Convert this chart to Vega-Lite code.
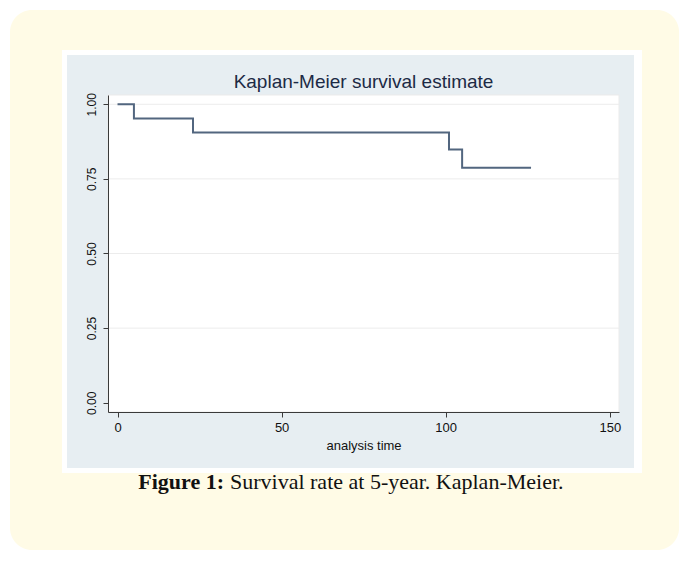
{
  "$schema": "https://vega.github.io/schema/vega-lite/v6.json",
  "width": 511,
  "height": 317,
  "autosize": {"type": "none"},
  "padding": {"left": 108, "top": 95, "right": 61, "bottom": 151},
  "background": "white",
  "config": {
    "view": {"stroke": null},
    "axis": {"grid": false, "domainColor": "#3a3a3a", "tickColor": "#3a3a3a", "labelColor": "#111111", "labelFont": "Liberation Sans", "titleFont": "Liberation Sans", "titleFontWeight": "normal", "titleColor": "#111111"}
  },
  "datasets": {
    "km": [
      {"time": 0, "survival": 1.0},
      {"time": 5, "survival": 0.952},
      {"time": 23, "survival": 0.905},
      {"time": 101, "survival": 0.848},
      {"time": 105, "survival": 0.787},
      {"time": 126, "survival": 0.787}
    ],
    "gridlines": [{"level": 0.25}, {"level": 0.5}, {"level": 0.75}, {"level": 1.0}]
  },
  "layer": [
    {
      "data": {"values": [{}]},
      "mark": {"type": "rect", "fill": "#fffbe6", "cornerRadius": 22},
      "encoding": {
        "x": {"datum": -32.76, "type": "quantitative", "scale": {"domain": [-2.9, 152.8], "nice": false, "zero": false}, "axis": {"title": "analysis time", "values": [0, 50, 100, 150], "zindex": 2, "labelFontSize": 13, "titleFontSize": 13, "labelPadding": 4, "titlePadding": 5, "labelFlush": false, "tickSize": 5}},
        "x2": {"datum": 171.1},
        "y": {"datum": 1.316, "type": "quantitative", "scale": {"domain": [-0.031, 1.031], "nice": false, "zero": false}, "axis": {"title": null, "values": [0, 0.25, 0.5, 0.75, 1], "format": ".2f", "zindex": 2, "labelFontSize": 12, "labelAngle": -90, "labelAlign": "center", "labelBaseline": "bottom", "labelPadding": 5, "tickSize": 5, "labelFlush": false}},
        "y2": {"datum": -0.493}
      }
    },
    {
      "data": {"values": [{}]},
      "mark": {"type": "rect", "fill": "#ffffff"},
      "encoding": {
        "x": {"datum": -16.92, "type": "quantitative", "axis": {"title": "analysis time", "values": [0, 50, 100, 150], "zindex": 2, "labelFontSize": 13, "titleFontSize": 13, "labelPadding": 4, "titlePadding": 5, "labelFlush": false, "tickSize": 5}},
        "x2": {"datum": 159.81},
        "y": {"datum": 1.182, "type": "quantitative", "axis": {"title": null, "values": [0, 0.25, 0.5, 0.75, 1], "format": ".2f", "zindex": 2, "labelFontSize": 12, "labelAngle": -90, "labelAlign": "center", "labelBaseline": "bottom", "labelPadding": 5, "tickSize": 5, "labelFlush": false}},
        "y2": {"datum": -0.235}
      }
    },
    {
      "data": {"values": [{}]},
      "mark": {"type": "rect", "fill": "#e7eef2"},
      "encoding": {
        "x": {"datum": -15.39, "type": "quantitative", "axis": {"title": "analysis time", "values": [0, 50, 100, 150], "zindex": 2, "labelFontSize": 13, "titleFontSize": 13, "labelPadding": 4, "titlePadding": 5, "labelFlush": false, "tickSize": 5}},
        "x2": {"datum": 157.37},
        "y": {"datum": 1.165, "type": "quantitative", "axis": {"title": null, "values": [0, 0.25, 0.5, 0.75, 1], "format": ".2f", "zindex": 2, "labelFontSize": 12, "labelAngle": -90, "labelAlign": "center", "labelBaseline": "bottom", "labelPadding": 5, "tickSize": 5, "labelFlush": false}},
        "y2": {"datum": -0.2186}
      }
    },
    {
      "data": {"values": [{}]},
      "mark": {"type": "rect", "fill": "#ffffff", "stroke": "#ebebeb", "strokeWidth": 1},
      "encoding": {
        "x": {"datum": -2.9, "type": "quantitative", "axis": {"title": "analysis time", "values": [0, 50, 100, 150], "zindex": 2, "labelFontSize": 13, "titleFontSize": 13, "labelPadding": 4, "titlePadding": 5, "labelFlush": false, "tickSize": 5}},
        "x2": {"datum": 152.8},
        "y": {"datum": -0.031, "type": "quantitative", "axis": {"title": null, "values": [0, 0.25, 0.5, 0.75, 1], "format": ".2f", "zindex": 2, "labelFontSize": 12, "labelAngle": -90, "labelAlign": "center", "labelBaseline": "bottom", "labelPadding": 5, "tickSize": 5, "labelFlush": false}},
        "y2": {"datum": 1.031}
      }
    },
    {
      "data": {"name": "gridlines"},
      "mark": {"type": "rule", "color": "#ececec", "strokeWidth": 1},
      "encoding": {
        "y": {"field": "level", "type": "quantitative", "axis": {"title": null, "values": [0, 0.25, 0.5, 0.75, 1], "format": ".2f", "zindex": 2, "labelFontSize": 12, "labelAngle": -90, "labelAlign": "center", "labelBaseline": "bottom", "labelPadding": 5, "tickSize": 5, "labelFlush": false}}
      }
    },
    {
      "data": {"name": "km"},
      "mark": {"type": "line", "interpolate": "step-after", "color": "#52667f", "strokeWidth": 2},
      "encoding": {
        "x": {"field": "time", "type": "quantitative", "axis": {"title": "analysis time", "values": [0, 50, 100, 150], "zindex": 2, "labelFontSize": 13, "titleFontSize": 13, "labelPadding": 4, "titlePadding": 5, "labelFlush": false, "tickSize": 5}},
        "y": {"field": "survival", "type": "quantitative", "axis": {"title": null, "values": [0, 0.25, 0.5, 0.75, 1], "format": ".2f", "zindex": 2, "labelFontSize": 12, "labelAngle": -90, "labelAlign": "center", "labelBaseline": "bottom", "labelPadding": 5, "tickSize": 5, "labelFlush": false}}
      }
    },
    {
      "data": {"values": [{}]},
      "mark": {"type": "text", "text": "Kaplan-Meier survival estimate", "font": "Liberation Sans", "fontSize": 19, "align": "center", "baseline": "alphabetic", "color": "#1c2a45"},
      "encoding": {
        "x": {"datum": 74.95, "type": "quantitative", "axis": {"title": "analysis time", "values": [0, 50, 100, 150], "zindex": 2, "labelFontSize": 13, "titleFontSize": 13, "labelPadding": 4, "titlePadding": 5, "labelFlush": false, "tickSize": 5}},
        "y": {"datum": 1.0545, "type": "quantitative", "axis": {"title": null, "values": [0, 0.25, 0.5, 0.75, 1], "format": ".2f", "zindex": 2, "labelFontSize": 12, "labelAngle": -90, "labelAlign": "center", "labelBaseline": "bottom", "labelPadding": 5, "tickSize": 5, "labelFlush": false}}
      }
    },
    {
      "data": {"values": [{}]},
      "mark": {"type": "text", "text": "Figure 1:", "font": "Liberation Serif", "fontSize": 22, "fontWeight": "bold", "align": "right", "baseline": "alphabetic", "color": "#111111"},
      "encoding": {
        "x": {"datum": 32.44, "type": "quantitative", "axis": {"title": "analysis time", "values": [0, 50, 100, 150], "zindex": 2, "labelFontSize": 13, "titleFontSize": 13, "labelPadding": 4, "titlePadding": 5, "labelFlush": false, "tickSize": 5}},
        "y": {"datum": -0.289, "type": "quantitative", "axis": {"title": null, "values": [0, 0.25, 0.5, 0.75, 1], "format": ".2f", "zindex": 2, "labelFontSize": 12, "labelAngle": -90, "labelAlign": "center", "labelBaseline": "bottom", "labelPadding": 5, "tickSize": 5, "labelFlush": false}}
      }
    },
    {
      "data": {"values": [{}]},
      "mark": {"type": "text", "text": "Survival rate at 5-year. Kaplan-Meier.", "font": "Liberation Serif", "fontSize": 22, "align": "left", "baseline": "alphabetic", "color": "#111111"},
      "encoding": {
        "x": {"datum": 34.27, "type": "quantitative", "axis": {"title": "analysis time", "values": [0, 50, 100, 150], "zindex": 2, "labelFontSize": 13, "titleFontSize": 13, "labelPadding": 4, "titlePadding": 5, "labelFlush": false, "tickSize": 5}},
        "y": {"datum": -0.289, "type": "quantitative", "axis": {"title": null, "values": [0, 0.25, 0.5, 0.75, 1], "format": ".2f", "zindex": 2, "labelFontSize": 12, "labelAngle": -90, "labelAlign": "center", "labelBaseline": "bottom", "labelPadding": 5, "tickSize": 5, "labelFlush": false}}
      }
    }
  ]
}
